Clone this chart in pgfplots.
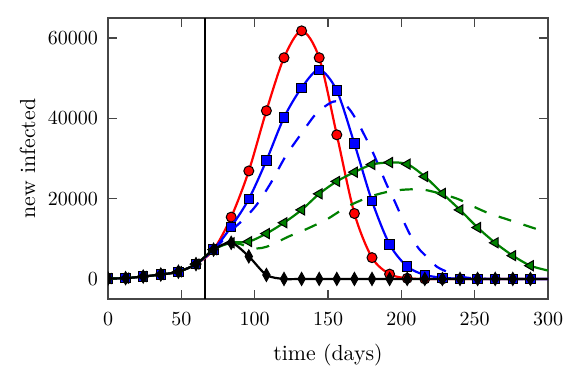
\documentclass[border=0pt]{standalone}
\usepackage{pgfplots}
\usepackage{pgfplotstable}
\pgfplotsset{compat=1.18}
\definecolor{mgreen}{RGB}{0,128,0}
\definecolor{axgray}{RGB}{70,70,70}

% scenario with markers (daily curve, marker every 12 days)
\pgfplotstableread{
x y
0 100
12 200
24 600
36 1100
48 1800
60 3700
72 7300
84 15400
96 26900
108 41900
120 55100
132 61800
144 55100
156 35900
168 16300
180 5300
192 1200
204 150
216 0
228 0
240 0
252 0
264 0
276 0
288 0
300 0
}\redtab

\pgfplotstableread{
x y
0 100
12 200
24 600
36 1100
48 1800
60 3700
72 7300
84 13000
96 19900
108 29500
120 40200
132 47600
144 52100
156 46900
168 33700
180 19400
192 8600
204 3100
216 1000
228 300
240 50
252 0
264 0
276 0
288 0
300 0
}\bluetab

\pgfplotstableread{
x y
72 7300
78 9500
84 12000
92 14700
101 18300
111 23900
121 30500
132 36300
141 40800
148 43000
154 44200
160 43900
165 42100
170 39200
175 35700
180 32000
185 27800
190 23500
195 19700
200 15600
206 11000
212 7500
218 5300
224 3100
231 1800
238 800
245 300
255 50
265 0
300 0
}\bluedash

\pgfplotstableread{
x y
0 100
12 200
24 600
36 1100
48 1800
60 3700
72 7300
84 9000
96 9300
108 11300
120 14000
132 17200
144 21200
156 24300
168 26600
180 28500
192 29000
204 28600
216 25500
228 21300
240 17200
252 12800
264 9000
276 5800
288 3300
300 2100
}\greentab

\pgfplotstableread{
x y
84 9000
90 8700
96 7900
102 7600
108 8000
116 9300
124 10700
134 12200
144 13900
150 15000
159 17100
167 18700
178 20400
186 21300
195 22000
205 22300
214 22300
222 21700
232 20700
240 19700
250 17900
260 16300
270 15100
280 13900
290 12700
300 11500
}\greendash

\pgfplotstableread{
x y
0 100
12 200
24 600
36 1100
48 1800
60 3700
72 7300
84 9000
96 5600
108 1000
120 0
132 0
144 0
156 0
168 0
180 0
192 0
204 0
216 0
228 0
240 0
252 0
264 0
276 0
288 0
300 0
}\blacktab

\begin{document}
\begin{tikzpicture}
\begin{axis}[
    width=220pt, height=140.5pt, scale only axis,
    xmin=0, xmax=300, ymin=-5000, ymax=65000,
    xtick={0,50,...,300},
    ytick={0,20000,40000,60000},
    scaled y ticks=false,
    yticklabel style={/pgf/number format/1000 sep={}, xshift=-1.5pt},
    xticklabel style={yshift=-3.5pt},
    tick label style={font=\fontsize{9.7}{11}\selectfont},
    label style={font=\fontsize{10.9}{13}\selectfont},
    xlabel={time (days)},
    ylabel={new infected},
    xlabel style={at={(axis description cs:0.5,-0.199)}, anchor=center},
    ylabel style={at={(axis description cs:-0.183,0.5)}, anchor=center},
    axis line style={axgray, line width=0.7pt},
    every tick/.style={axgray, line width=0.7pt},
    major tick length=4.5pt,
    clip mode=individual,
    clip marker paths=true,
    every axis plot/.append style={line width=1.1pt},
]
% intervention day
\addplot[black, line width=1pt] coordinates {(66,-5000) (66,65000)};

\addplot[red, smooth] table {\redtab};
\addplot[only marks, mark=*, mark size=2.5pt,
    mark options={fill=red, draw=black, line width=0.5pt},
    restrict x to domain=0:295] table {\redtab};

\addplot[blue, smooth] table {\bluetab};
\addplot[only marks, mark=square*, mark size=2.35pt,
    mark options={fill=blue, draw=black, line width=0.5pt},
    restrict x to domain=0:295] table {\bluetab};

\addplot[blue, smooth, dash pattern=on 6.5pt off 6.5pt] table {\bluedash};

\addplot[mgreen, smooth] table {\greentab};
\addplot[only marks, mark=triangle*, mark size=2.9pt,
    mark options={fill=mgreen, draw=black, line width=0.5pt, rotate=90},
    restrict x to domain=0:295] table {\greentab};

\addplot[mgreen, smooth, dash pattern=on 6.5pt off 6.5pt] table {\greendash};

\addplot[black, smooth] table {\blacktab};
\addplot[only marks, mark=diamond*, mark size=3.25pt,
    mark options={fill=black, draw=black, line width=0.5pt, xscale=0.75},
    restrict x to domain=0:295] table {\blacktab};
\end{axis}
\pgfresetboundingbox
\useasboundingbox (-54pt,-38pt) rectangle (236.5pt,149.5pt);
\end{tikzpicture}
\end{document}
